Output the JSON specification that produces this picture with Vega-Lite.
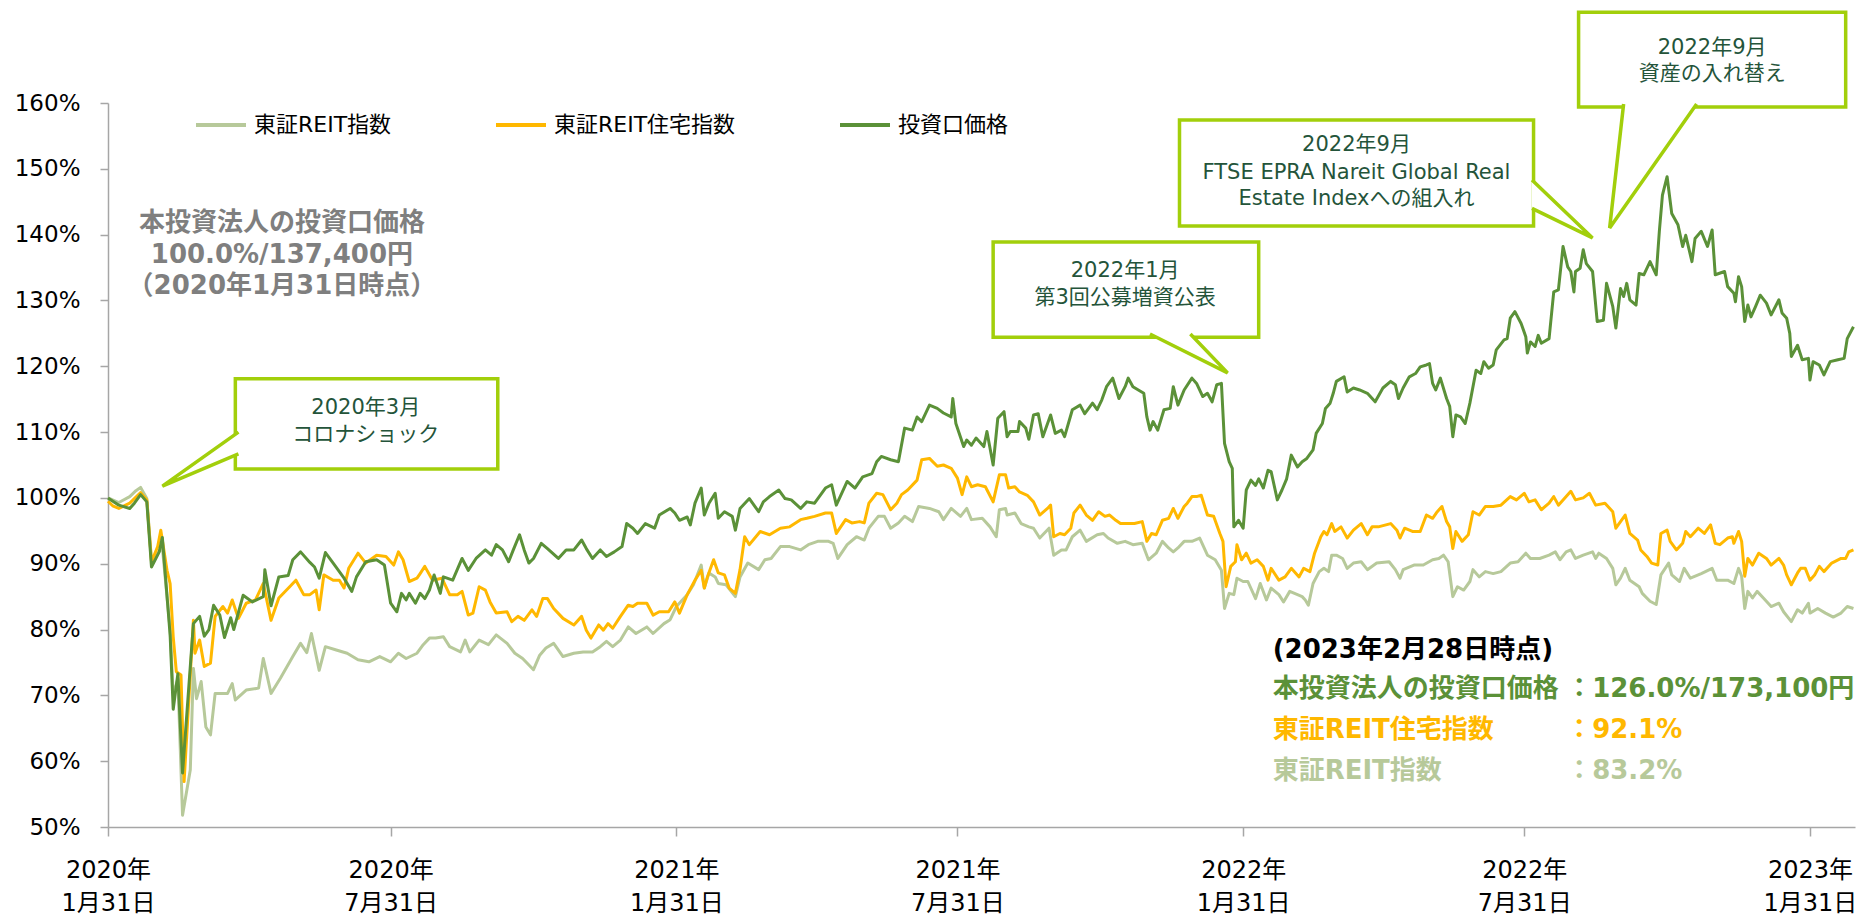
{
"$schema":"https://vega.github.io/schema/vega-lite/v6.json",
"width":1747,"height":724,
"autosize":{"type":"none"},
"padding":{"left":108,"top":103,"right":14,"bottom":90},
"background":"white",
"config":{"font":"DejaVu Sans, Noto Sans CJK JP","view":{"stroke":null}},
"datasets":{
"reit":[{"d":"2020-01-31","v":100},{"d":"2020-02-07","v":99.3},{"d":"2020-02-14","v":100.2},{"d":"2020-02-18","v":101.1},{"d":"2020-02-21","v":101.6},{"d":"2020-02-25","v":99.9},{"d":"2020-02-28","v":90.5},{"d":"2020-03-06","v":92.5},{"d":"2020-03-11","v":80.0},{"d":"2020-03-13","v":70.0},{"d":"2020-03-16","v":72.5},{"d":"2020-03-19","v":51.8},{"d":"2020-03-24","v":58.7},{"d":"2020-03-26","v":74.1},{"d":"2020-03-28","v":69.5},{"d":"2020-03-31","v":72.1},{"d":"2020-04-03","v":65.2},{"d":"2020-04-06","v":64.0},{"d":"2020-04-09","v":70.3},{"d":"2020-04-17","v":70.3},{"d":"2020-04-20","v":71.8},{"d":"2020-04-22","v":69.3},{"d":"2020-04-29","v":70.8},{"d":"2020-05-07","v":71.1},{"d":"2020-05-10","v":75.6},{"d":"2020-05-15","v":70.3},{"d":"2020-05-21","v":72.6},{"d":"2020-05-29","v":75.9},{"d":"2020-06-03","v":77.9},{"d":"2020-06-07","v":76.5},{"d":"2020-06-10","v":79.4},{"d":"2020-06-15","v":73.8},{"d":"2020-06-19","v":77.4},{"d":"2020-06-26","v":76.9},{"d":"2020-07-03","v":76.4},{"d":"2020-07-10","v":75.4},{"d":"2020-07-17","v":75.1},{"d":"2020-07-24","v":75.9},{"d":"2020-07-31","v":75.1},{"d":"2020-08-05","v":76.4},{"d":"2020-08-10","v":75.6},{"d":"2020-08-17","v":76.4},{"d":"2020-08-21","v":77.7},{"d":"2020-08-25","v":78.7},{"d":"2020-08-29","v":78.7},{"d":"2020-09-03","v":78.9},{"d":"2020-09-07","v":77.4},{"d":"2020-09-14","v":76.6},{"d":"2020-09-17","v":78.4},{"d":"2020-09-20","v":76.6},{"d":"2020-09-26","v":78.4},{"d":"2020-10-02","v":77.7},{"d":"2020-10-07","v":79.2},{"d":"2020-10-14","v":77.9},{"d":"2020-10-19","v":76.4},{"d":"2020-10-24","v":75.6},{"d":"2020-10-31","v":73.9},{"d":"2020-11-04","v":76.1},{"d":"2020-11-08","v":77.2},{"d":"2020-11-13","v":77.9},{"d":"2020-11-19","v":75.9},{"d":"2020-11-26","v":76.4},{"d":"2020-12-02","v":76.6},{"d":"2020-12-08","v":76.6},{"d":"2020-12-13","v":77.4},{"d":"2020-12-17","v":78.2},{"d":"2020-12-21","v":77.4},{"d":"2020-12-26","v":78.4},{"d":"2020-12-31","v":80.4},{"d":"2021-01-05","v":79.4},{"d":"2021-01-12","v":80.4},{"d":"2021-01-16","v":79.4},{"d":"2021-01-23","v":80.9},{"d":"2021-01-27","v":81.5},{"d":"2021-01-31","v":83.5},{"d":"2021-02-07","v":85.3},{"d":"2021-02-11","v":86.8},{"d":"2021-02-16","v":89.8},{"d":"2021-02-18","v":86.3},{"d":"2021-02-21","v":88.6},{"d":"2021-02-25","v":88.0},{"d":"2021-02-27","v":87.0},{"d":"2021-03-04","v":86.8},{"d":"2021-03-10","v":85.0},{"d":"2021-03-13","v":88.0},{"d":"2021-03-18","v":90.1},{"d":"2021-03-25","v":89.1},{"d":"2021-03-29","v":90.6},{"d":"2021-04-02","v":90.8},{"d":"2021-04-08","v":92.6},{"d":"2021-04-14","v":92.6},{"d":"2021-04-21","v":92.1},{"d":"2021-04-26","v":92.9},{"d":"2021-05-02","v":93.4},{"d":"2021-05-09","v":93.4},{"d":"2021-05-12","v":93.1},{"d":"2021-05-15","v":90.8},{"d":"2021-05-21","v":92.9},{"d":"2021-05-27","v":94.1},{"d":"2021-06-01","v":93.6},{"d":"2021-06-04","v":95.4},{"d":"2021-06-10","v":97.2},{"d":"2021-06-14","v":97.2},{"d":"2021-06-18","v":95.4},{"d":"2021-06-23","v":96.2},{"d":"2021-06-27","v":97.2},{"d":"2021-07-02","v":96.4},{"d":"2021-07-06","v":98.7},{"d":"2021-07-13","v":98.4},{"d":"2021-07-19","v":97.9},{"d":"2021-07-22","v":96.7},{"d":"2021-07-27","v":98.4},{"d":"2021-08-02","v":97.2},{"d":"2021-08-06","v":98.4},{"d":"2021-08-09","v":96.7},{"d":"2021-08-16","v":96.9},{"d":"2021-08-21","v":95.6},{"d":"2021-08-25","v":94.1},{"d":"2021-08-27","v":98.2},{"d":"2021-08-31","v":98.4},{"d":"2021-09-01","v":97.4},{"d":"2021-09-06","v":97.7},{"d":"2021-09-10","v":96.1},{"d":"2021-09-15","v":95.6},{"d":"2021-09-18","v":95.4},{"d":"2021-09-22","v":93.9},{"d":"2021-09-28","v":95.4},{"d":"2021-10-01","v":91.3},{"d":"2021-10-06","v":92.1},{"d":"2021-10-09","v":92.1},{"d":"2021-10-13","v":94.1},{"d":"2021-10-18","v":95.1},{"d":"2021-10-22","v":93.4},{"d":"2021-10-29","v":94.4},{"d":"2021-11-02","v":94.6},{"d":"2021-11-05","v":93.9},{"d":"2021-11-11","v":93.1},{"d":"2021-11-16","v":93.4},{"d":"2021-11-21","v":92.9},{"d":"2021-11-27","v":93.1},{"d":"2021-12-01","v":90.6},{"d":"2021-12-06","v":91.6},{"d":"2021-12-10","v":93.4},{"d":"2021-12-14","v":92.4},{"d":"2021-12-17","v":91.8},{"d":"2021-12-20","v":92.4},{"d":"2021-12-24","v":93.4},{"d":"2021-12-29","v":93.4},{"d":"2022-01-03","v":93.9},{"d":"2022-01-08","v":91.3},{"d":"2022-01-13","v":90.6},{"d":"2022-01-17","v":89.0},{"d":"2022-01-19","v":83.2},{"d":"2022-01-22","v":85.5},{"d":"2022-01-25","v":85.3},{"d":"2022-01-27","v":87.8},{"d":"2022-01-31","v":87.3},{"d":"2022-02-03","v":87.3},{"d":"2022-02-08","v":84.7},{"d":"2022-02-11","v":87.0},{"d":"2022-02-15","v":84.5},{"d":"2022-02-18","v":86.3},{"d":"2022-02-23","v":85.3},{"d":"2022-02-26","v":84.2},{"d":"2022-03-02","v":85.8},{"d":"2022-03-07","v":85.3},{"d":"2022-03-10","v":85.0},{"d":"2022-03-12","v":84.5},{"d":"2022-03-14","v":83.7},{"d":"2022-03-17","v":87.0},{"d":"2022-03-21","v":88.8},{"d":"2022-03-24","v":89.3},{"d":"2022-03-27","v":88.8},{"d":"2022-03-29","v":91.3},{"d":"2022-04-01","v":91.3},{"d":"2022-04-05","v":90.8},{"d":"2022-04-08","v":89.3},{"d":"2022-04-12","v":90.1},{"d":"2022-04-17","v":90.3},{"d":"2022-04-21","v":89.1},{"d":"2022-04-27","v":90.1},{"d":"2022-05-05","v":90.3},{"d":"2022-05-09","v":89.1},{"d":"2022-05-12","v":87.8},{"d":"2022-05-14","v":89.1},{"d":"2022-05-21","v":89.8},{"d":"2022-05-27","v":89.8},{"d":"2022-06-02","v":90.6},{"d":"2022-06-06","v":90.8},{"d":"2022-06-09","v":91.3},{"d":"2022-06-12","v":90.3},{"d":"2022-06-15","v":85.0},{"d":"2022-06-18","v":86.5},{"d":"2022-06-22","v":86.0},{"d":"2022-06-26","v":87.3},{"d":"2022-06-28","v":89.1},{"d":"2022-07-02","v":88.0},{"d":"2022-07-06","v":88.8},{"d":"2022-07-11","v":88.5},{"d":"2022-07-16","v":88.8},{"d":"2022-07-22","v":90.1},{"d":"2022-07-27","v":90.3},{"d":"2022-08-01","v":91.6},{"d":"2022-08-04","v":90.8},{"d":"2022-08-10","v":90.8},{"d":"2022-08-16","v":91.3},{"d":"2022-08-20","v":91.8},{"d":"2022-08-23","v":90.6},{"d":"2022-08-27","v":91.8},{"d":"2022-08-30","v":92.1},{"d":"2022-09-02","v":90.8},{"d":"2022-09-07","v":91.3},{"d":"2022-09-13","v":91.8},{"d":"2022-09-15","v":90.8},{"d":"2022-09-17","v":91.6},{"d":"2022-09-22","v":90.8},{"d":"2022-09-26","v":89.3},{"d":"2022-09-28","v":86.8},{"d":"2022-10-01","v":87.8},{"d":"2022-10-04","v":89.3},{"d":"2022-10-07","v":87.5},{"d":"2022-10-13","v":86.5},{"d":"2022-10-15","v":85.5},{"d":"2022-10-20","v":84.3},{"d":"2022-10-24","v":83.8},{"d":"2022-10-27","v":88.3},{"d":"2022-11-01","v":90.1},{"d":"2022-11-03","v":88.3},{"d":"2022-11-08","v":87.3},{"d":"2022-11-11","v":89.3},{"d":"2022-11-15","v":87.8},{"d":"2022-11-22","v":88.5},{"d":"2022-11-29","v":89.3},{"d":"2022-12-02","v":87.5},{"d":"2022-12-09","v":87.5},{"d":"2022-12-13","v":87.0},{"d":"2022-12-16","v":89.3},{"d":"2022-12-18","v":88.1},{"d":"2022-12-20","v":83.2},{"d":"2022-12-22","v":85.8},{"d":"2022-12-25","v":84.8},{"d":"2022-12-28","v":85.8},{"d":"2023-01-01","v":84.8},{"d":"2023-01-06","v":83.5},{"d":"2023-01-11","v":84.0},{"d":"2023-01-14","v":82.7},{"d":"2023-01-19","v":81.2},{"d":"2023-01-23","v":83.0},{"d":"2023-01-26","v":82.5},{"d":"2023-01-30","v":84.0},{"d":"2023-01-31","v":82.5},{"d":"2023-02-05","v":83.2},{"d":"2023-02-10","v":82.5},{"d":"2023-02-15","v":81.9},{"d":"2023-02-20","v":82.5},{"d":"2023-02-24","v":83.5},{"d":"2023-02-28","v":83.2}],
"res":[{"d":"2020-01-31","v":99.5},{"d":"2020-02-03","v":98.8},{"d":"2020-02-07","v":98.4},{"d":"2020-02-14","v":99.2},{"d":"2020-02-21","v":100.8},{"d":"2020-02-25","v":99.7},{"d":"2020-02-28","v":90.3},{"d":"2020-03-03","v":92.6},{"d":"2020-03-05","v":95.1},{"d":"2020-03-09","v":89.0},{"d":"2020-03-11","v":87.0},{"d":"2020-03-13","v":78.9},{"d":"2020-03-15","v":73.6},{"d":"2020-03-18","v":73.1},{"d":"2020-03-20","v":56.9},{"d":"2020-03-26","v":81.4},{"d":"2020-03-27","v":76.4},{"d":"2020-03-30","v":78.4},{"d":"2020-04-02","v":74.4},{"d":"2020-04-06","v":74.9},{"d":"2020-04-09","v":82.0},{"d":"2020-04-14","v":83.5},{"d":"2020-04-17","v":82.5},{"d":"2020-04-20","v":84.5},{"d":"2020-04-24","v":81.7},{"d":"2020-04-29","v":84.0},{"d":"2020-05-05","v":84.5},{"d":"2020-05-10","v":87.0},{"d":"2020-05-15","v":81.4},{"d":"2020-05-20","v":84.8},{"d":"2020-05-27","v":86.5},{"d":"2020-05-31","v":87.5},{"d":"2020-06-05","v":85.3},{"d":"2020-06-09","v":85.3},{"d":"2020-06-13","v":86.0},{"d":"2020-06-15","v":83.0},{"d":"2020-06-18","v":88.3},{"d":"2020-06-24","v":87.5},{"d":"2020-06-28","v":87.5},{"d":"2020-07-01","v":86.3},{"d":"2020-07-04","v":89.3},{"d":"2020-07-10","v":91.6},{"d":"2020-07-15","v":90.1},{"d":"2020-07-22","v":91.3},{"d":"2020-07-28","v":91.1},{"d":"2020-08-02","v":89.8},{"d":"2020-08-05","v":91.8},{"d":"2020-08-08","v":90.6},{"d":"2020-08-12","v":87.3},{"d":"2020-08-17","v":87.8},{"d":"2020-08-19","v":88.5},{"d":"2020-08-22","v":89.6},{"d":"2020-08-27","v":87.5},{"d":"2020-09-02","v":87.8},{"d":"2020-09-07","v":85.3},{"d":"2020-09-12","v":85.3},{"d":"2020-09-15","v":85.8},{"d":"2020-09-19","v":82.2},{"d":"2020-09-22","v":82.5},{"d":"2020-09-26","v":86.5},{"d":"2020-09-30","v":86.0},{"d":"2020-10-03","v":84.2},{"d":"2020-10-07","v":82.5},{"d":"2020-10-14","v":82.7},{"d":"2020-10-17","v":81.2},{"d":"2020-10-21","v":82.0},{"d":"2020-10-25","v":81.4},{"d":"2020-10-30","v":83.0},{"d":"2020-11-02","v":82.0},{"d":"2020-11-06","v":84.7},{"d":"2020-11-09","v":84.7},{"d":"2020-11-13","v":83.2},{"d":"2020-11-19","v":81.7},{"d":"2020-11-26","v":80.7},{"d":"2020-12-01","v":82.0},{"d":"2020-12-04","v":79.9},{"d":"2020-12-07","v":78.7},{"d":"2020-12-12","v":80.7},{"d":"2020-12-15","v":79.9},{"d":"2020-12-18","v":80.9},{"d":"2020-12-21","v":80.2},{"d":"2020-12-26","v":82.0},{"d":"2020-12-31","v":83.7},{"d":"2021-01-03","v":83.5},{"d":"2021-01-06","v":84.0},{"d":"2021-01-12","v":84.0},{"d":"2021-01-16","v":82.2},{"d":"2021-01-20","v":82.7},{"d":"2021-01-26","v":82.7},{"d":"2021-01-30","v":84.2},{"d":"2021-02-02","v":82.5},{"d":"2021-02-07","v":85.3},{"d":"2021-02-12","v":87.5},{"d":"2021-02-16","v":89.0},{"d":"2021-02-18","v":86.3},{"d":"2021-02-20","v":88.0},{"d":"2021-02-24","v":90.6},{"d":"2021-02-27","v":88.6},{"d":"2021-03-03","v":88.3},{"d":"2021-03-06","v":86.3},{"d":"2021-03-10","v":85.5},{"d":"2021-03-13","v":89.1},{"d":"2021-03-16","v":94.1},{"d":"2021-03-19","v":92.9},{"d":"2021-03-26","v":94.9},{"d":"2021-04-01","v":94.4},{"d":"2021-04-08","v":95.4},{"d":"2021-04-14","v":95.6},{"d":"2021-04-21","v":96.7},{"d":"2021-04-25","v":96.9},{"d":"2021-04-30","v":97.2},{"d":"2021-05-07","v":97.7},{"d":"2021-05-11","v":97.7},{"d":"2021-05-14","v":94.6},{"d":"2021-05-20","v":96.7},{"d":"2021-05-24","v":96.2},{"d":"2021-05-29","v":96.4},{"d":"2021-06-01","v":96.2},{"d":"2021-06-04","v":99.2},{"d":"2021-06-09","v":100.7},{"d":"2021-06-13","v":100.5},{"d":"2021-06-18","v":98.2},{"d":"2021-06-22","v":99.2},{"d":"2021-06-25","v":100.5},{"d":"2021-06-29","v":101.2},{"d":"2021-07-05","v":102.7},{"d":"2021-07-08","v":105.8},{"d":"2021-07-13","v":106.0},{"d":"2021-07-18","v":104.8},{"d":"2021-07-22","v":105.0},{"d":"2021-07-27","v":104.5},{"d":"2021-07-31","v":103.0},{"d":"2021-08-03","v":100.5},{"d":"2021-08-06","v":103.2},{"d":"2021-08-09","v":101.7},{"d":"2021-08-13","v":102.0},{"d":"2021-08-18","v":101.7},{"d":"2021-08-23","v":99.4},{"d":"2021-08-27","v":103.5},{"d":"2021-08-31","v":103.5},{"d":"2021-09-02","v":101.5},{"d":"2021-09-06","v":101.7},{"d":"2021-09-09","v":100.9},{"d":"2021-09-14","v":100.4},{"d":"2021-09-18","v":99.4},{"d":"2021-09-22","v":97.4},{"d":"2021-09-27","v":98.4},{"d":"2021-09-29","v":98.9},{"d":"2021-10-01","v":94.1},{"d":"2021-10-05","v":94.6},{"d":"2021-10-08","v":94.4},{"d":"2021-10-12","v":95.4},{"d":"2021-10-14","v":97.7},{"d":"2021-10-18","v":98.9},{"d":"2021-10-22","v":97.4},{"d":"2021-10-26","v":96.6},{"d":"2021-10-30","v":97.9},{"d":"2021-11-03","v":97.2},{"d":"2021-11-06","v":97.4},{"d":"2021-11-10","v":96.6},{"d":"2021-11-13","v":96.1},{"d":"2021-11-18","v":96.1},{"d":"2021-11-22","v":96.1},{"d":"2021-11-27","v":96.4},{"d":"2021-11-30","v":93.4},{"d":"2021-12-03","v":94.6},{"d":"2021-12-06","v":94.4},{"d":"2021-12-10","v":96.6},{"d":"2021-12-14","v":96.9},{"d":"2021-12-17","v":98.4},{"d":"2021-12-20","v":96.9},{"d":"2021-12-24","v":98.7},{"d":"2021-12-26","v":99.2},{"d":"2021-12-29","v":100.2},{"d":"2022-01-01","v":100.2},{"d":"2022-01-04","v":100.4},{"d":"2022-01-08","v":97.4},{"d":"2022-01-12","v":97.2},{"d":"2022-01-16","v":94.6},{"d":"2022-01-18","v":93.4},{"d":"2022-01-20","v":86.5},{"d":"2022-01-23","v":89.6},{"d":"2022-01-26","v":90.3},{"d":"2022-01-27","v":92.9},{"d":"2022-01-30","v":90.6},{"d":"2022-02-02","v":91.6},{"d":"2022-02-05","v":90.1},{"d":"2022-02-09","v":90.6},{"d":"2022-02-13","v":89.6},{"d":"2022-02-16","v":87.5},{"d":"2022-02-18","v":89.3},{"d":"2022-02-23","v":87.5},{"d":"2022-02-27","v":88.0},{"d":"2022-03-03","v":89.3},{"d":"2022-03-08","v":88.0},{"d":"2022-03-11","v":89.3},{"d":"2022-03-15","v":88.8},{"d":"2022-03-18","v":91.6},{"d":"2022-03-22","v":94.1},{"d":"2022-03-24","v":94.9},{"d":"2022-03-26","v":94.4},{"d":"2022-03-29","v":96.1},{"d":"2022-03-31","v":94.9},{"d":"2022-04-04","v":95.6},{"d":"2022-04-08","v":93.9},{"d":"2022-04-12","v":95.1},{"d":"2022-04-17","v":96.1},{"d":"2022-04-21","v":94.4},{"d":"2022-04-24","v":95.6},{"d":"2022-04-28","v":95.6},{"d":"2022-05-06","v":96.1},{"d":"2022-05-10","v":95.1},{"d":"2022-05-12","v":93.9},{"d":"2022-05-15","v":95.4},{"d":"2022-05-20","v":94.9},{"d":"2022-05-25","v":94.9},{"d":"2022-05-29","v":97.4},{"d":"2022-06-02","v":96.9},{"d":"2022-06-05","v":97.9},{"d":"2022-06-08","v":98.7},{"d":"2022-06-11","v":96.4},{"d":"2022-06-13","v":95.6},{"d":"2022-06-15","v":92.3},{"d":"2022-06-17","v":94.9},{"d":"2022-06-21","v":93.4},{"d":"2022-06-25","v":94.4},{"d":"2022-06-28","v":97.9},{"d":"2022-07-02","v":97.4},{"d":"2022-07-06","v":98.7},{"d":"2022-07-11","v":98.7},{"d":"2022-07-16","v":98.9},{"d":"2022-07-22","v":100.2},{"d":"2022-07-26","v":99.7},{"d":"2022-07-31","v":100.7},{"d":"2022-08-03","v":99.4},{"d":"2022-08-07","v":99.7},{"d":"2022-08-11","v":98.2},{"d":"2022-08-16","v":99.2},{"d":"2022-08-19","v":100.2},{"d":"2022-08-22","v":98.9},{"d":"2022-08-27","v":100.2},{"d":"2022-08-30","v":101.0},{"d":"2022-09-02","v":99.7},{"d":"2022-09-07","v":100.0},{"d":"2022-09-11","v":100.7},{"d":"2022-09-15","v":98.9},{"d":"2022-09-21","v":99.2},{"d":"2022-09-26","v":97.9},{"d":"2022-09-28","v":95.4},{"d":"2022-10-01","v":96.4},{"d":"2022-10-04","v":97.4},{"d":"2022-10-07","v":94.6},{"d":"2022-10-12","v":93.6},{"d":"2022-10-14","v":92.1},{"d":"2022-10-18","v":91.1},{"d":"2022-10-21","v":90.1},{"d":"2022-10-25","v":89.8},{"d":"2022-10-27","v":94.6},{"d":"2022-10-31","v":95.1},{"d":"2022-11-02","v":93.4},{"d":"2022-11-06","v":92.1},{"d":"2022-11-10","v":93.1},{"d":"2022-11-12","v":94.9},{"d":"2022-11-15","v":94.1},{"d":"2022-11-20","v":95.4},{"d":"2022-11-24","v":94.6},{"d":"2022-11-28","v":95.9},{"d":"2022-12-01","v":93.1},{"d":"2022-12-04","v":92.9},{"d":"2022-12-09","v":93.9},{"d":"2022-12-12","v":94.1},{"d":"2022-12-13","v":93.1},{"d":"2022-12-16","v":94.9},{"d":"2022-12-18","v":93.4},{"d":"2022-12-20","v":88.1},{"d":"2022-12-22","v":90.8},{"d":"2022-12-25","v":89.8},{"d":"2022-12-29","v":91.6},{"d":"2023-01-03","v":90.8},{"d":"2023-01-06","v":89.8},{"d":"2023-01-11","v":90.8},{"d":"2023-01-14","v":89.8},{"d":"2023-01-16","v":88.3},{"d":"2023-01-19","v":86.8},{"d":"2023-01-23","v":88.6},{"d":"2023-01-25","v":89.3},{"d":"2023-01-28","v":89.3},{"d":"2023-01-31","v":87.5},{"d":"2023-02-03","v":88.3},{"d":"2023-02-06","v":89.6},{"d":"2023-02-09","v":88.8},{"d":"2023-02-14","v":90.1},{"d":"2023-02-20","v":90.8},{"d":"2023-02-23","v":90.8},{"d":"2023-02-25","v":91.8},{"d":"2023-02-28","v":92.1}],
"unit":[{"d":"2020-01-31","v":100},{"d":"2020-02-07","v":98.9},{"d":"2020-02-14","v":98.4},{"d":"2020-02-17","v":99.2},{"d":"2020-02-21","v":100.5},{"d":"2020-02-25","v":99.4},{"d":"2020-02-28","v":89.5},{"d":"2020-03-04","v":91.8},{"d":"2020-03-06","v":94.0},{"d":"2020-03-11","v":79.2},{"d":"2020-03-13","v":67.9},{"d":"2020-03-16","v":73.3},{"d":"2020-03-19","v":58.2},{"d":"2020-03-26","v":80.9},{"d":"2020-03-30","v":82.0},{"d":"2020-04-02","v":79.0},{"d":"2020-04-05","v":80.0},{"d":"2020-04-08","v":83.7},{"d":"2020-04-12","v":82.2},{"d":"2020-04-15","v":78.8},{"d":"2020-04-19","v":81.8},{"d":"2020-04-21","v":80.0},{"d":"2020-04-27","v":85.2},{"d":"2020-05-03","v":84.2},{"d":"2020-05-10","v":85.0},{"d":"2020-05-11","v":89.1},{"d":"2020-05-15","v":83.6},{"d":"2020-05-20","v":88.0},{"d":"2020-05-26","v":88.2},{"d":"2020-05-29","v":90.6},{"d":"2020-06-03","v":91.8},{"d":"2020-06-09","v":90.2},{"d":"2020-06-12","v":89.5},{"d":"2020-06-15","v":87.8},{"d":"2020-06-19","v":91.7},{"d":"2020-06-24","v":90.1},{"d":"2020-07-01","v":87.8},{"d":"2020-07-06","v":85.8},{"d":"2020-07-09","v":88.0},{"d":"2020-07-15","v":90.3},{"d":"2020-07-22","v":90.6},{"d":"2020-07-27","v":89.8},{"d":"2020-07-31","v":84.0},{"d":"2020-08-04","v":82.7},{"d":"2020-08-07","v":85.5},{"d":"2020-08-10","v":84.5},{"d":"2020-08-12","v":85.5},{"d":"2020-08-16","v":84.0},{"d":"2020-08-19","v":85.5},{"d":"2020-08-22","v":84.7},{"d":"2020-08-25","v":86.0},{"d":"2020-08-28","v":88.3},{"d":"2020-09-01","v":85.5},{"d":"2020-09-03","v":88.0},{"d":"2020-09-09","v":87.5},{"d":"2020-09-15","v":90.8},{"d":"2020-09-19","v":89.0},{"d":"2020-09-24","v":90.8},{"d":"2020-09-30","v":92.1},{"d":"2020-10-04","v":91.3},{"d":"2020-10-07","v":92.9},{"d":"2020-10-11","v":92.1},{"d":"2020-10-15","v":90.3},{"d":"2020-10-18","v":92.1},{"d":"2020-10-22","v":94.4},{"d":"2020-10-25","v":92.1},{"d":"2020-10-28","v":90.1},{"d":"2020-10-31","v":90.8},{"d":"2020-11-05","v":93.1},{"d":"2020-11-09","v":92.3},{"d":"2020-11-16","v":90.8},{"d":"2020-11-21","v":92.1},{"d":"2020-11-26","v":92.1},{"d":"2020-12-01","v":93.6},{"d":"2020-12-04","v":92.3},{"d":"2020-12-08","v":90.8},{"d":"2020-12-13","v":92.1},{"d":"2020-12-17","v":91.1},{"d":"2020-12-22","v":91.8},{"d":"2020-12-27","v":92.6},{"d":"2020-12-30","v":96.1},{"d":"2021-01-03","v":95.4},{"d":"2021-01-06","v":94.6},{"d":"2021-01-11","v":96.1},{"d":"2021-01-17","v":95.4},{"d":"2021-01-20","v":97.4},{"d":"2021-01-27","v":98.4},{"d":"2021-01-30","v":97.7},{"d":"2021-02-02","v":96.6},{"d":"2021-02-07","v":97.1},{"d":"2021-02-09","v":95.9},{"d":"2021-02-12","v":99.2},{"d":"2021-02-16","v":101.5},{"d":"2021-02-18","v":97.4},{"d":"2021-02-21","v":99.2},{"d":"2021-02-25","v":100.7},{"d":"2021-02-27","v":96.9},{"d":"2021-03-03","v":97.9},{"d":"2021-03-08","v":97.2},{"d":"2021-03-10","v":95.1},{"d":"2021-03-13","v":98.4},{"d":"2021-03-19","v":99.9},{"d":"2021-03-25","v":97.9},{"d":"2021-03-28","v":99.4},{"d":"2021-04-01","v":100.2},{"d":"2021-04-07","v":101.2},{"d":"2021-04-11","v":99.9},{"d":"2021-04-15","v":99.7},{"d":"2021-04-21","v":98.4},{"d":"2021-04-25","v":99.4},{"d":"2021-04-30","v":99.2},{"d":"2021-05-07","v":101.5},{"d":"2021-05-11","v":102.0},{"d":"2021-05-14","v":98.9},{"d":"2021-05-21","v":102.5},{"d":"2021-05-26","v":101.5},{"d":"2021-05-31","v":103.2},{"d":"2021-06-06","v":103.7},{"d":"2021-06-09","v":105.5},{"d":"2021-06-12","v":106.3},{"d":"2021-06-18","v":105.8},{"d":"2021-06-23","v":105.5},{"d":"2021-06-27","v":110.6},{"d":"2021-07-02","v":110.3},{"d":"2021-07-05","v":112.3},{"d":"2021-07-08","v":111.6},{"d":"2021-07-13","v":114.1},{"d":"2021-07-18","v":113.6},{"d":"2021-07-22","v":112.9},{"d":"2021-07-27","v":112.3},{"d":"2021-07-28","v":115.1},{"d":"2021-07-30","v":111.3},{"d":"2021-08-04","v":107.8},{"d":"2021-08-06","v":108.8},{"d":"2021-08-09","v":108.0},{"d":"2021-08-12","v":109.1},{"d":"2021-08-17","v":107.8},{"d":"2021-08-19","v":110.1},{"d":"2021-08-23","v":105.0},{"d":"2021-08-26","v":112.1},{"d":"2021-08-30","v":113.1},{"d":"2021-09-01","v":109.3},{"d":"2021-09-03","v":110.1},{"d":"2021-09-08","v":110.1},{"d":"2021-09-09","v":111.6},{"d":"2021-09-13","v":110.6},{"d":"2021-09-15","v":108.9},{"d":"2021-09-18","v":112.6},{"d":"2021-09-21","v":112.8},{"d":"2021-09-24","v":109.3},{"d":"2021-09-29","v":112.6},{"d":"2021-10-02","v":109.8},{"d":"2021-10-06","v":110.3},{"d":"2021-10-08","v":109.3},{"d":"2021-10-13","v":113.4},{"d":"2021-10-18","v":114.1},{"d":"2021-10-21","v":112.8},{"d":"2021-10-26","v":114.4},{"d":"2021-10-29","v":113.4},{"d":"2021-11-01","v":114.9},{"d":"2021-11-04","v":116.9},{"d":"2021-11-08","v":118.2},{"d":"2021-11-12","v":115.1},{"d":"2021-11-16","v":116.9},{"d":"2021-11-18","v":118.2},{"d":"2021-11-21","v":116.9},{"d":"2021-11-28","v":115.9},{"d":"2021-11-30","v":112.3},{"d":"2021-12-02","v":110.3},{"d":"2021-12-04","v":111.6},{"d":"2021-12-07","v":110.3},{"d":"2021-12-11","v":113.4},{"d":"2021-12-15","v":113.6},{"d":"2021-12-17","v":116.9},{"d":"2021-12-20","v":114.1},{"d":"2021-12-24","v":116.4},{"d":"2021-12-29","v":118.2},{"d":"2022-01-01","v":117.4},{"d":"2022-01-05","v":115.4},{"d":"2022-01-08","v":115.9},{"d":"2022-01-11","v":114.6},{"d":"2022-01-14","v":117.2},{"d":"2022-01-17","v":117.4},{"d":"2022-01-19","v":108.3},{"d":"2022-01-22","v":105.5},{"d":"2022-01-24","v":104.5},{"d":"2022-01-25","v":95.6},{"d":"2022-01-28","v":96.6},{"d":"2022-01-31","v":95.4},{"d":"2022-02-02","v":101.2},{"d":"2022-02-05","v":102.7},{"d":"2022-02-08","v":101.9},{"d":"2022-02-10","v":102.9},{"d":"2022-02-13","v":101.5},{"d":"2022-02-16","v":104.2},{"d":"2022-02-18","v":104.0},{"d":"2022-02-22","v":99.7},{"d":"2022-02-25","v":101.2},{"d":"2022-02-28","v":102.9},{"d":"2022-03-03","v":106.5},{"d":"2022-03-07","v":104.7},{"d":"2022-03-10","v":105.5},{"d":"2022-03-13","v":106.0},{"d":"2022-03-17","v":107.3},{"d":"2022-03-19","v":109.8},{"d":"2022-03-23","v":111.3},{"d":"2022-03-25","v":113.6},{"d":"2022-03-28","v":114.4},{"d":"2022-03-30","v":115.9},{"d":"2022-04-01","v":117.7},{"d":"2022-04-06","v":118.4},{"d":"2022-04-08","v":116.1},{"d":"2022-04-12","v":116.7},{"d":"2022-04-16","v":116.4},{"d":"2022-04-21","v":115.9},{"d":"2022-04-26","v":114.6},{"d":"2022-05-01","v":116.7},{"d":"2022-05-06","v":117.7},{"d":"2022-05-09","v":117.2},{"d":"2022-05-11","v":115.1},{"d":"2022-05-14","v":116.7},{"d":"2022-05-18","v":118.4},{"d":"2022-05-22","v":118.9},{"d":"2022-05-25","v":119.9},{"d":"2022-05-29","v":120.2},{"d":"2022-05-31","v":120.4},{"d":"2022-06-02","v":117.4},{"d":"2022-06-04","v":116.4},{"d":"2022-06-07","v":118.2},{"d":"2022-06-11","v":115.1},{"d":"2022-06-13","v":113.9},{"d":"2022-06-15","v":109.3},{"d":"2022-06-17","v":112.6},{"d":"2022-06-20","v":112.3},{"d":"2022-06-23","v":111.3},{"d":"2022-06-26","v":114.4},{"d":"2022-06-30","v":119.4},{"d":"2022-07-03","v":118.9},{"d":"2022-07-05","v":120.7},{"d":"2022-07-08","v":119.7},{"d":"2022-07-11","v":120.2},{"d":"2022-07-13","v":122.5},{"d":"2022-07-18","v":124.0},{"d":"2022-07-20","v":124.2},{"d":"2022-07-22","v":127.3},{"d":"2022-07-25","v":128.3},{"d":"2022-07-29","v":126.5},{"d":"2022-08-01","v":124.5},{"d":"2022-08-02","v":122.0},{"d":"2022-08-04","v":123.7},{"d":"2022-08-07","v":123.0},{"d":"2022-08-09","v":124.7},{"d":"2022-08-11","v":123.5},{"d":"2022-08-16","v":124.2},{"d":"2022-08-19","v":131.3},{"d":"2022-08-22","v":131.6},{"d":"2022-08-25","v":138.2},{"d":"2022-08-28","v":135.1},{"d":"2022-08-30","v":134.4},{"d":"2022-09-01","v":131.3},{"d":"2022-09-02","v":134.4},{"d":"2022-09-05","v":134.9},{"d":"2022-09-07","v":137.7},{"d":"2022-09-09","v":135.6},{"d":"2022-09-13","v":134.4},{"d":"2022-09-16","v":126.8},{"d":"2022-09-20","v":127.0},{"d":"2022-09-22","v":132.6},{"d":"2022-09-26","v":129.1},{"d":"2022-09-28","v":125.8},{"d":"2022-10-01","v":131.8},{"d":"2022-10-03","v":130.6},{"d":"2022-10-05","v":132.6},{"d":"2022-10-07","v":130.1},{"d":"2022-10-11","v":129.3},{"d":"2022-10-13","v":134.1},{"d":"2022-10-16","v":133.9},{"d":"2022-10-20","v":135.9},{"d":"2022-10-24","v":133.9},{"d":"2022-10-26","v":140.5},{"d":"2022-10-28","v":146.0},{"d":"2022-10-31","v":148.8},{"d":"2022-11-03","v":143.2},{"d":"2022-11-07","v":141.5},{"d":"2022-11-10","v":138.2},{"d":"2022-11-12","v":139.9},{"d":"2022-11-16","v":135.9},{"d":"2022-11-18","v":139.4},{"d":"2022-11-22","v":140.5},{"d":"2022-11-26","v":138.2},{"d":"2022-11-29","v":140.7},{"d":"2022-12-01","v":133.9},{"d":"2022-12-07","v":134.4},{"d":"2022-12-09","v":132.1},{"d":"2022-12-13","v":131.1},{"d":"2022-12-14","v":129.8},{"d":"2022-12-16","v":133.6},{"d":"2022-12-18","v":132.1},{"d":"2022-12-20","v":126.8},{"d":"2022-12-22","v":129.3},{"d":"2022-12-24","v":127.5},{"d":"2022-12-27","v":129.1},{"d":"2022-12-30","v":130.8},{"d":"2023-01-03","v":129.6},{"d":"2023-01-06","v":127.8},{"d":"2023-01-11","v":130.1},{"d":"2023-01-13","v":128.1},{"d":"2023-01-16","v":127.3},{"d":"2023-01-18","v":125.0},{"d":"2023-01-19","v":121.5},{"d":"2023-01-23","v":123.2},{"d":"2023-01-26","v":121.0},{"d":"2023-01-30","v":121.2},{"d":"2023-01-31","v":117.9},{"d":"2023-02-02","v":120.7},{"d":"2023-02-06","v":120.2},{"d":"2023-02-09","v":118.7},{"d":"2023-02-13","v":120.7},{"d":"2023-02-18","v":121.0},{"d":"2023-02-22","v":121.2},{"d":"2023-02-24","v":124.2},{"d":"2023-02-28","v":126.0}],
"boxes":[{"d":"2020-04-22","d2":"2020-10-08","v":118.1,"v2":104.4},{"d":"2021-08-23","d2":"2022-02-10","v":138.9,"v2":124.4},{"d":"2021-12-21","d2":"2022-08-06","v":157.4,"v2":141.3},{"d":"2022-09-04","d2":"2023-02-23","v":173.8,"v2":159.4}],
"ptr":[{"id":1,"o":1,"d":"2020-04-24","v":110.0},{"id":1,"o":2,"d":"2020-03-06","v":101.8},{"id":1,"o":3,"d":"2020-04-24","v":106.7},{"id":2,"o":1,"d":"2021-12-02","v":124.9},{"id":2,"o":2,"d":"2022-01-21","v":119.0},{"id":2,"o":3,"d":"2021-12-28","v":124.9},{"id":3,"o":1,"d":"2022-08-05","v":148.3},{"id":3,"o":2,"d":"2022-09-13","v":139.5},{"id":3,"o":3,"d":"2022-08-05","v":144.0},{"id":4,"o":1,"d":"2022-10-03","v":159.85},{"id":4,"o":2,"d":"2022-09-24","v":141.0},{"id":4,"o":3,"d":"2022-11-19","v":159.85}],
"callout":[{"d":"2020-07-15","v":113.7,"t":"2020年3月"},{"d":"2020-07-15","v":109.6,"t":"コロナショック"},{"d":"2021-11-16","v":134.5,"t":"2022年1月"},{"d":"2021-11-16","v":130.4,"t":"第3回公募増資公表"},{"d":"2022-04-14","v":153.6,"t":"2022年9月"},{"d":"2022-04-14","v":149.4,"t":"FTSE EPRA Nareit Global Real"},{"d":"2022-04-14","v":145.4,"t":"Estate Indexへの組入れ"},{"d":"2022-11-29","v":168.4,"t":"2022年9月"},{"d":"2022-11-29","v":164.4,"t":"資産の入れ替え"}],
"gray":[{"d":"2020-05-22","v":141.8,"t":"本投資法人の投資口価格"},{"d":"2020-05-22","v":136.9,"t":"100.0%/137,400円"},{"d":"2020-05-22","v":132.2,"t":"（2020年1月31日時点）"}],
"asof":[{"d":"2022-02-19","v":76.9,"t":"(2023年2月28日時点)"}],
"gtxt":[{"d":"2022-02-19","v":71.0,"t":"本投資法人の投資口価格"},{"d":"2022-08-27","v":71.0,"t":"：126.0%/173,100円"}],
"otxt":[{"d":"2022-02-19","v":64.7,"t":"東証REIT住宅指数"},{"d":"2022-08-27","v":64.7,"t":"：92.1%"}],
"ltxt":[{"d":"2022-02-19","v":58.5,"t":"東証REIT指数"},{"d":"2022-08-27","v":58.5,"t":"：83.2%"}]
},
"layer":[
{"mark":{"type":"rule","stroke":"#7F7F7F","strokeWidth":2,"strokeDash":[8,5]},"encoding":{"y":{"datum":100,"type":"quantitative"}}},
{"data":{"name":"reit"},"mark":{"type":"line","strokeWidth":3,"strokeJoin":"round"},
 "encoding":{
  "x":{"field":"d","type":"temporal","scale":{"type":"utc","domain":[{"year":2020,"month":1,"date":31,"utc":true},{"year":2023,"month":3,"date":1,"utc":true}]},
   "axis":{"title":null,"grid":false,"values":[{"year":2020,"month":1,"date":31,"utc":true},{"year":2020,"month":7,"date":31,"utc":true},{"year":2021,"month":1,"date":31,"utc":true},{"year":2021,"month":7,"date":31,"utc":true},{"year":2022,"month":1,"date":31,"utc":true},{"year":2022,"month":7,"date":31,"utc":true},{"year":2023,"month":1,"date":31,"utc":true}],
    "labelExpr":"[utcFormat(datum.value, '%Y年'), utcFormat(datum.value, '%-m月%-d日')]","labelFontSize":24,"labelColor":"#000000","labelLineHeight":33,"labelPadding":22,"tickSize":9,"tickColor":"#A6A6A6","domainColor":"#A6A6A6","domainWidth":1.5,"tickWidth":1.5,"labelFlush":false,"labelOverlap":false}},
  "y":{"field":"v","type":"quantitative","scale":{"domain":[50,160],"nice":false,"zero":false},
   "axis":{"title":null,"grid":false,"values":[50,60,70,80,90,100,110,120,130,140,150,160],"labelExpr":"datum.value + '%'","labelFontSize":23,"labelColor":"#000000","labelPadding":20,"tickSize":8,"tickColor":"#A6A6A6","domainColor":"#A6A6A6","domainWidth":1.5,"tickWidth":1.5}},
  "color":{"datum":"東証REIT指数","type":"nominal","scale":{"domain":["東証REIT指数","東証REIT住宅指数","投資口価格"],"range":["#B7C99A","#FFB800","#5B9138"]},
   "legend":{"orient":"none","legendX":86,"legendY":-5,"direction":"horizontal","title":null,"symbolType":"stroke","symbolSize":2500,"symbolStrokeWidth":4,"labelFontSize":22,"labelColor":"#000000","labelOffset":6,"columnPadding":96,"labelLimit":400,"padding":0}}}},
{"data":{"name":"res"},"mark":{"type":"line","strokeWidth":3,"strokeJoin":"round"},"encoding":{"x":{"field":"d","type":"temporal"},"y":{"field":"v","type":"quantitative"},"color":{"datum":"東証REIT住宅指数","type":"nominal"}}},
{"data":{"name":"unit"},"mark":{"type":"line","strokeWidth":3,"strokeJoin":"round"},"encoding":{"x":{"field":"d","type":"temporal"},"y":{"field":"v","type":"quantitative"},"color":{"datum":"投資口価格","type":"nominal"}}},
{"data":{"name":"boxes"},"mark":{"type":"rect","fill":"white","stroke":"#A2CF0B","strokeWidth":3.5},"encoding":{"x":{"field":"d","type":"temporal"},"x2":{"field":"d2"},"y":{"field":"v","type":"quantitative"},"y2":{"field":"v2"}}},
{"data":{"name":"ptr"},"mark":{"type":"line","stroke":"#A2CF0B","strokeWidth":3.5,"fill":"white","strokeJoin":"miter"},"encoding":{"x":{"field":"d","type":"temporal"},"y":{"field":"v","type":"quantitative"},"detail":{"field":"id"},"order":{"field":"o"}}},
{"data":{"name":"callout"},"mark":{"type":"text","fontSize":21,"color":"#24543A","align":"center","baseline":"middle"},"encoding":{"x":{"field":"d","type":"temporal"},"y":{"field":"v","type":"quantitative"},"text":{"field":"t"}}},
{"data":{"name":"gray"},"mark":{"type":"text","fontSize":26,"fontWeight":"bold","color":"#7F7F7F","align":"center","baseline":"middle"},"encoding":{"x":{"field":"d","type":"temporal"},"y":{"field":"v","type":"quantitative"},"text":{"field":"t"}}},
{"data":{"name":"asof"},"mark":{"type":"text","fontSize":26,"fontWeight":"bold","color":"#000000","align":"left","baseline":"middle"},"encoding":{"x":{"field":"d","type":"temporal"},"y":{"field":"v","type":"quantitative"},"text":{"field":"t"}}},
{"data":{"name":"gtxt"},"mark":{"type":"text","fontSize":26,"fontWeight":"bold","color":"#5B9138","align":"left","baseline":"middle"},"encoding":{"x":{"field":"d","type":"temporal"},"y":{"field":"v","type":"quantitative"},"text":{"field":"t"}}},
{"data":{"name":"otxt"},"mark":{"type":"text","fontSize":26,"fontWeight":"bold","color":"#FFB800","align":"left","baseline":"middle"},"encoding":{"x":{"field":"d","type":"temporal"},"y":{"field":"v","type":"quantitative"},"text":{"field":"t"}}},
{"data":{"name":"ltxt"},"mark":{"type":"text","fontSize":26,"fontWeight":"bold","color":"#B7C99A","align":"left","baseline":"middle"},"encoding":{"x":{"field":"d","type":"temporal"},"y":{"field":"v","type":"quantitative"},"text":{"field":"t"}}}
]
}
